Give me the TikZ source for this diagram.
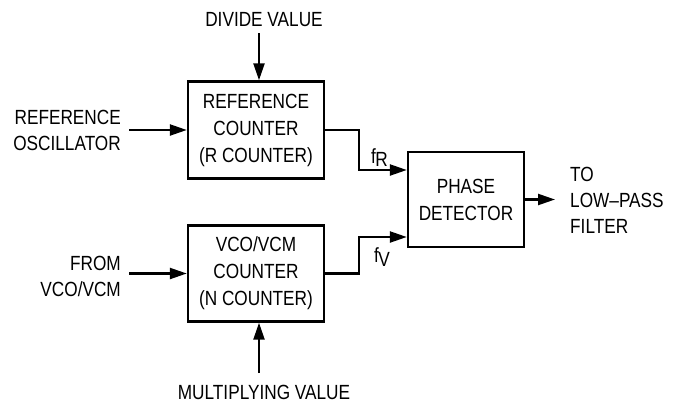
\documentclass[tikz,border=0pt]{standalone}
\usepackage{fontspec}
\setmainfont{Liberation Sans}[FakeStretch=0.84]
\usetikzlibrary{arrows.meta}
\begin{document}
\begin{tikzpicture}[x=1pt,y=-1pt,
  blk/.style={draw,line width=2.4pt,inner sep=0pt,align=center,font=\fontsize{20.5}{27}\selectfont},
  lbl/.style={inner sep=0pt,font=\fontsize{20.5}{26}\selectfont},
  conn/.style={line width=2.3pt,-{Triangle[length=17pt,width=11pt]}}]
\useasboundingbox (0,0) rectangle (679,402);
\node[blk,minimum width=136pt,minimum height=97pt] (rc) at (256,130) {REFERENCE\\COUNTER\\(R COUNTER)};
\node[blk,minimum width=136pt,minimum height=96pt] (nc) at (256,273.5) {VCO/VCM\\COUNTER\\(N COUNTER)};
\node[blk,minimum width=116pt,minimum height=95pt] (pd) at (466,199.5) {PHASE\\DETECTOR};
\node[lbl,align=right,anchor=east] (refosc) at (121,130) {REFERENCE\\OSCILLATOR};
\node[lbl,align=right,anchor=east] (fromvco) at (121,276) {FROM\\VCO/VCM};
\node[lbl] (div) at (264,20) {DIVIDE VALUE};
\node[lbl] (mul) at (264,392) {MULTIPLYING VALUE};
\node[lbl,align=left,anchor=west] (lpf) at (570,200) {TO\\LOW--PASS\\FILTER};
\node[lbl,anchor=base west] (fr) at (371,163) {f\kern-0.5pt\raisebox{-3pt}{R}};
\node[lbl,anchor=base west] (fv) at (374,262) {f\kern-0.5pt\raisebox{-4pt}{V}};
\coordinate (dtop) at (259,33);
\coordinate (mbot) at (259,373);
\coordinate (lpfin) at (555,199.5);
\draw[conn] ([xshift=8pt]refosc.east |- rc.west) -- (rc.west);
\draw[conn] ([xshift=8pt]fromvco.east |- nc.west) -- (nc.west);
\draw[conn] (dtop) -- (dtop |- rc.north);
\draw[conn] (mbot) -- (mbot |- nc.south);
\draw[conn] (rc.east) -- ++(34,0) |- ([yshift=29.5pt]pd.west);
\draw[conn] (nc.east) -- ++(34,0) |- ([yshift=-37.5pt]pd.west);
\draw[conn] (pd.east) -- (lpfin);
\end{tikzpicture}
\end{document}
